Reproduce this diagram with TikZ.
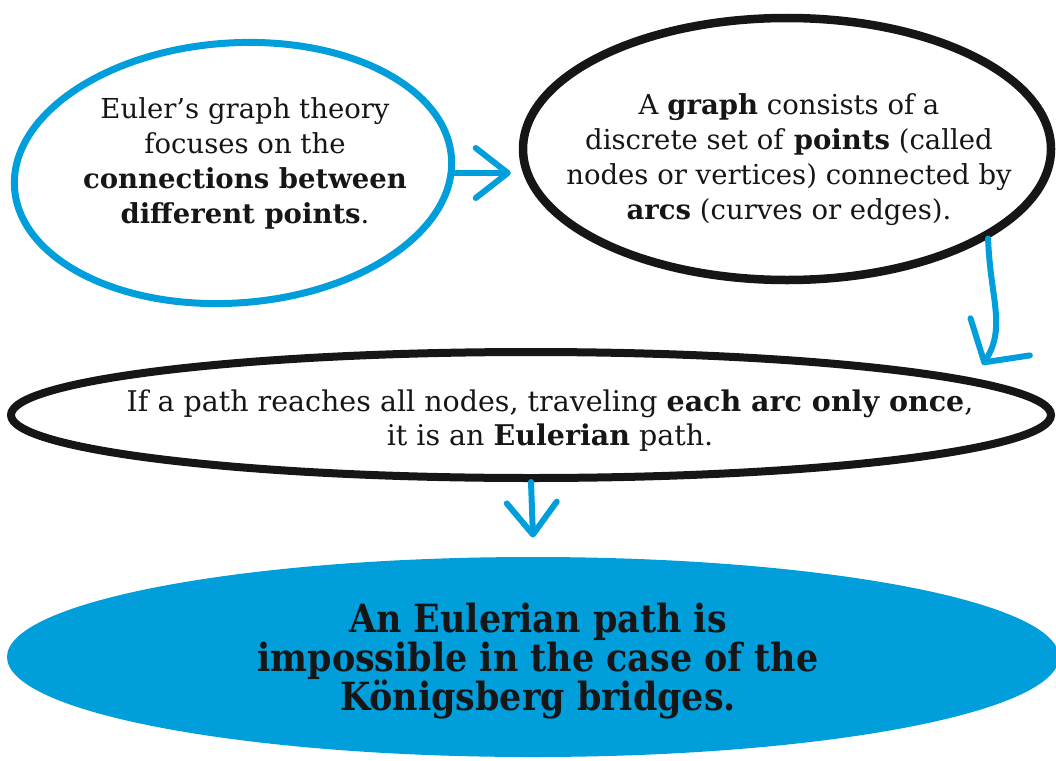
\documentclass[tikz,border=0pt]{standalone}
\usepackage{fontspec}
\setmainfont{DejaVu Serif}
\newfontfamily\condfont{DejaVu Serif Condensed}
\usetikzlibrary{shapes.geometric,arrows.meta,calc}
\definecolor{eblue}{RGB}{0,158,219}
\definecolor{eblack}{RGB}{22,22,22}
\begin{document}
\begin{tikzpicture}[x=1pt,y=-1pt,
  oval/.style={ellipse, inner sep=0pt, line width=7pt},
  txt/.style={align=center, text=eblack, inner sep=0pt},
  arr/.style={draw=eblue, line width=6pt, line cap=round,
    -{Straight Barb[length=32pt,width=50pt,round]}},
  widearr/.style={draw=eblue, line width=6pt, line cap=round,
    -{Straight Barb[length=30pt,width=70pt,round]}}
]
\useasboundingbox (0,0) rectangle (1056,760);
% shapes
\node[oval, draw=eblue, rotate=4, minimum width=438pt, minimum height=260pt] (e1) at (233,173) {};
\node[oval, draw=eblack, line width=8.5pt, minimum width=528pt, minimum height=262pt] (e2) at (787,149) {};
\node[oval, draw=eblack, line width=8pt, minimum width=1040pt, minimum height=126pt] (e3) at (531,415) {};
\node[oval, fill=eblue, minimum width=1052pt, minimum height=200pt] (e4) at (533,657) {};
% texts
\node[txt, font=\fontsize{27.5}{35}\selectfont] (t1) at (245,163)
  {Euler’s graph theory\\focuses on the\\\textbf{connections between}\\\textbf{different points}.};
\node[txt, font=\fontsize{27.5}{35}\selectfont] (t2) at (789,160)
  {A \textbf{graph} consists of a\\discrete set of \textbf{points} (called\\nodes or vertices) connected by\\\textbf{arcs} (curves or edges).};
\node[txt, font=\fontsize{28.5}{34}\selectfont] (t3) at (550,421)
  {If a path reaches all nodes, traveling \textbf{each arc only once},\\it is an \textbf{Eulerian} path.};
\node[txt, font=\condfont\bfseries\fontsize{38.8}{39}\selectfont] (t4) at (538,661)
  {An Eulerian path is\\impossible in the case of the\\Königsberg bridges.};
% connectors
\draw[arr] (e1.-4) -- ($(e2.west |- e1.-4)+(-8,0)$);
\draw[widearr] (e2.-24) .. controls +(88:60) and +(-58:45) .. ($(e3.4)+(-8,-18)$);
\draw[arr] (e3.south) -- ($(e4.north)+(0,-16)$);
\end{tikzpicture}
\end{document}
